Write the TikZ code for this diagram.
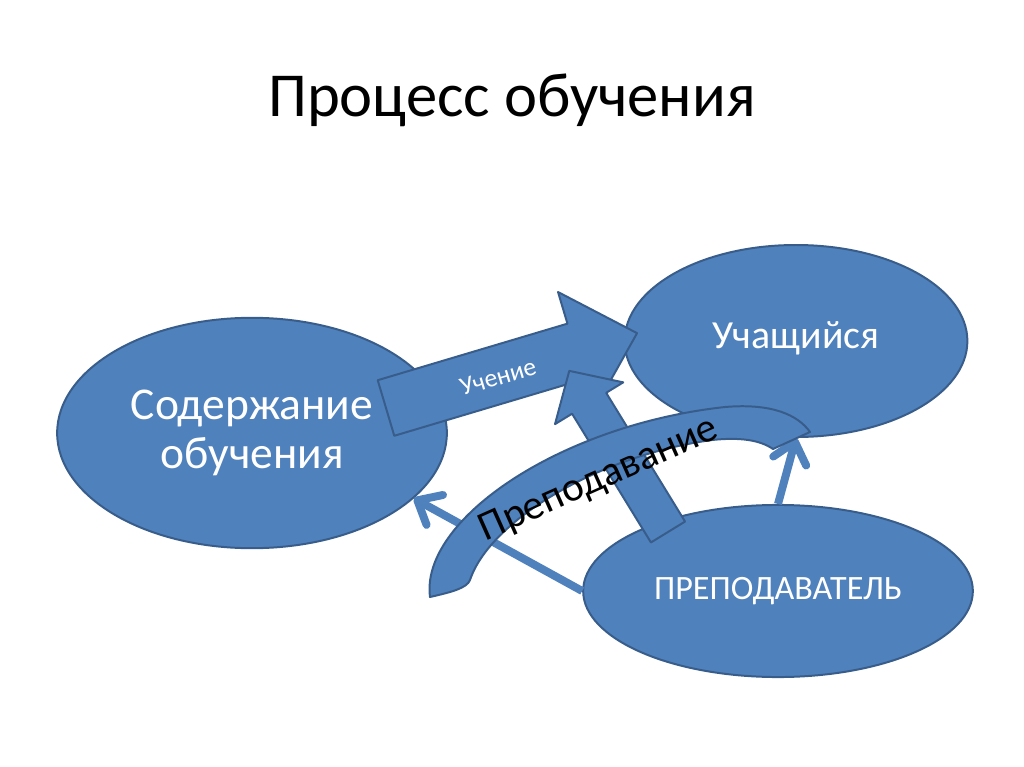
\documentclass[tikz,border=0pt]{standalone}
\usepackage{fontspec}
\setmainfont{Carlito}
\usetikzlibrary{arrows.meta,shapes.geometric}
\definecolor{slideblue}{HTML}{4F81BD}
\definecolor{slideedge}{HTML}{385D8A}
\tikzset{
  oval/.style={ellipse,draw=slideedge,fill=slideblue,line width=1.4pt,text=white,align=center,inner sep=0pt},
  blockarrow/.style={draw=slideedge,fill=slideblue,line width=1.4pt,line join=round},
  thinarrow/.style={draw=slideblue,line width=5.6pt,-{Straight Barb[length=14pt,width=24pt,round]}}
}
\begin{document}
\begin{tikzpicture}[x=0.703125pt,y=-0.703125pt]
\useasboundingbox (0,0) rectangle (1024,767);
\node[anchor=base,font=\fontsize{44}{53}\selectfont] (title) at (512,117) {Процесс обучения};
\node[oval,minimum width=274pt,minimum height=162pt,font=\fontsize{32}{35}\selectfont] (content) at (252,433) {Содержание\\обучения};
\node[oval,minimum width=241pt,minimum height=135pt,font=\fontsize{28}{34}\selectfont] (student) at (796,341) {\raisebox{8pt}{Учащийся}};
\node[oval,minimum width=274pt,minimum height=121pt,font=\fontsize{24}{29}\selectfont] (teacher) at (778,591) {ПРЕПОДАВАТЕЛЬ};
\draw[thinarrow] (teacher.west) -- (content.-22);
\draw[thinarrow] (teacher.north) -- (student.south);
\begin{scope}[shift={(386,408)},rotate=16.6]
\draw[blockarrow] (0,-29) -- (198,-29) -- (198,-62) -- (262,0) -- (198,62) -- (198,29) -- (0,29) -- cycle;
\end{scope}
\begin{scope}[shift={(668,532)},rotate=121.5]
\draw[blockarrow] (0,-20) -- (151,-20) -- (151,-40) -- (189,0) -- (151,40) -- (151,20) -- (0,20) -- cycle;
\end{scope}
\draw[blockarrow] (430,597) .. controls (420,520) and (560,425) .. (725,407)
  .. controls (772,403) and (798,415) .. (810,432) -- (773,449)
  .. controls (760,440) and (740,437) .. (712,440)
  .. controls (600,455) and (490,520) .. (470,580)
  .. controls (467,588) and (452,592) .. (430,597) -- cycle;
\node[rotate=16.6,text=white,font=\fontsize{18}{22}\selectfont] (learnlabel) at (498,377) {Учение};
\node[rotate=24,anchor=base,font=\fontsize{29}{35}\selectfont] (teachlabel) at (603,489) {Преподавание};
\end{tikzpicture}
\end{document}
